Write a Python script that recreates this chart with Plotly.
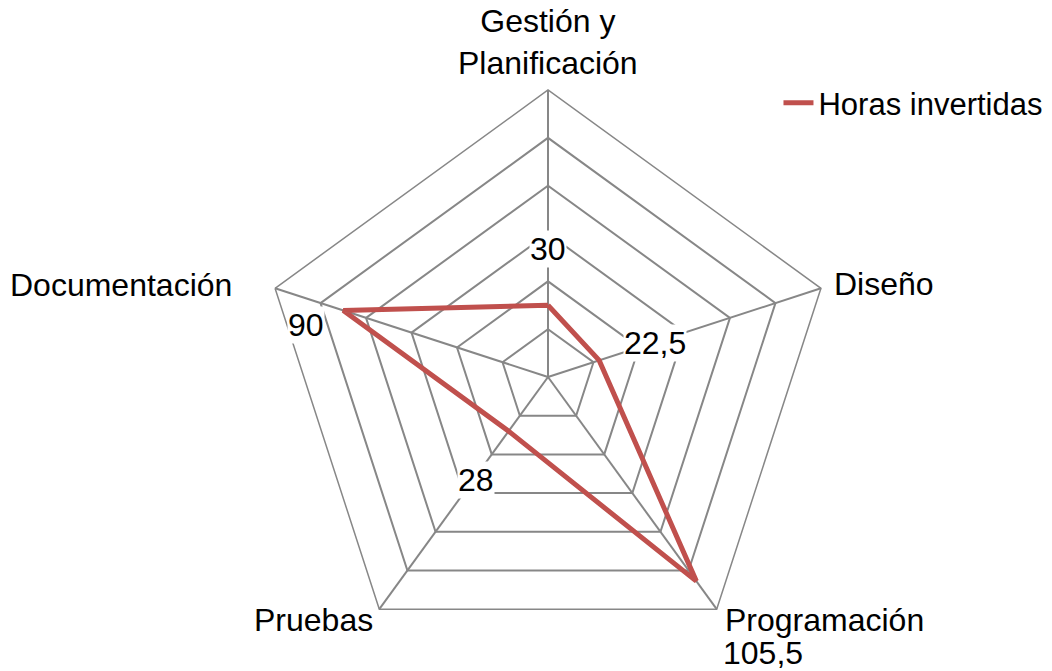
import math
import plotly.graph_objects as go

# Hours spent per project phase
categories = ["Gestión y Planificación", "Diseño", "Programación", "Pruebas", "Documentación"]
category_text = ["Gestión y<br>Planificación", "Diseño", "Programación", "Pruebas", "Documentación"]
hours = [30, 22.5, 105.5, 28, 90]
series_name = "Horas invertidas"

# Radial scale
r_max = 120
r_step = 20

# Value labels use a comma as decimal separator
value_labels = [f"{v:g}".replace(".", ",") for v in hours]

# Label placement in polar terms: radial shift (axis units) and angular shift (degrees)
value_dr = [23.5, 24.4, 41.0, 24.5, 13.5]
value_dtheta = [0.0, 0.4, -1.9, -1.0, -5.9]
category_r = [140.1, 145.8, 154.1, 141.3, 182.6]
category_dtheta = [0.0, 2.5, -12.7, 8.0, -5.8]

RED = "#C0504D"
GRID = "#878787"
FONT = "Liberation Sans, Arial, sans-serif"
FS = 32
W, H = 1052, 671

n = len(categories)
base_angle = [i * 360 / n for i in range(n)]

domain = dict(x=[261 / W, 835 / W], y=[7 / H, 581 / H])

# Polar geometry in paper fractions, used to place the text labels
cx = (domain["x"][0] + domain["x"][1]) / 2
cy = (domain["y"][0] + domain["y"][1]) / 2
radius_px = min((domain["x"][1] - domain["x"][0]) * W, (domain["y"][1] - domain["y"][0]) * H) / 2


def polar_to_paper(r, theta_deg):
    """Clockwise angle from the top, radius in axis units -> paper coordinates."""
    t = math.radians(theta_deg)
    d = r / r_max * radius_px
    return cx + d * math.sin(t) / W, cy + d * math.cos(t) / H


closed_theta = categories + categories[:1]
closed_r = hours + hours[:1]

fig = go.Figure()

fig.add_trace(go.Scatterpolar(
    r=closed_r,
    theta=closed_theta,
    mode="lines",
    line=dict(color=RED, width=5),
    name=series_name,
    cliponaxis=False,
))

annotations = []

# Value labels next to each vertex of the series
for v, a, dr, dt, txt in zip(hours, base_angle, value_dr, value_dtheta, value_labels):
    x, y = polar_to_paper(v + dr, a + dt)
    annotations.append(dict(
        x=x, y=y, xref="paper", yref="paper",
        text=txt, showarrow=False,
        xanchor="center", yanchor="middle",
        bgcolor="white", borderpad=0,
        font=dict(family=FONT, size=FS, color="black"),
    ))

# Category names around the outer polygon
for r, a, dt, txt in zip(category_r, base_angle, category_dtheta, category_text):
    x, y = polar_to_paper(r, a + dt)
    annotations.append(dict(
        x=x, y=y, xref="paper", yref="paper",
        text=txt, showarrow=False,
        xanchor="center", yanchor="middle",
        font=dict(family=FONT, size=FS, color="black"),
    ))

fig.update_layout(
    width=W,
    height=H,
    margin=dict(l=0, r=0, t=0, b=0),
    paper_bgcolor="white",
    plot_bgcolor="white",
    font=dict(family=FONT, size=FS, color="black"),
    polar=dict(
        domain=domain,
        bgcolor="white",
        gridshape="linear",
        angularaxis=dict(
            type="category",
            categoryorder="array",
            categoryarray=categories,
            rotation=90,
            direction="clockwise",
            showgrid=True,
            gridcolor=GRID,
            gridwidth=1.5,
            showline=True,
            linecolor=GRID,
            linewidth=1.5,
            ticks="",
            showticklabels=False,
        ),
        radialaxis=dict(
            range=[0, r_max],
            dtick=r_step,
            showgrid=True,
            gridcolor=GRID,
            gridwidth=1.5,
            showline=False,
            showticklabels=False,
            ticks="",
        ),
    ),
    annotations=annotations,
    legend=dict(
        x=0.740,
        y=1 - 103 / H,
        xanchor="left",
        yanchor="middle",
        font=dict(family=FONT, size=31, color="black"),
        bgcolor="rgba(0,0,0,0)",
        borderwidth=0,
    ),
    showlegend=True,
)

fig.write_html("out.html")
